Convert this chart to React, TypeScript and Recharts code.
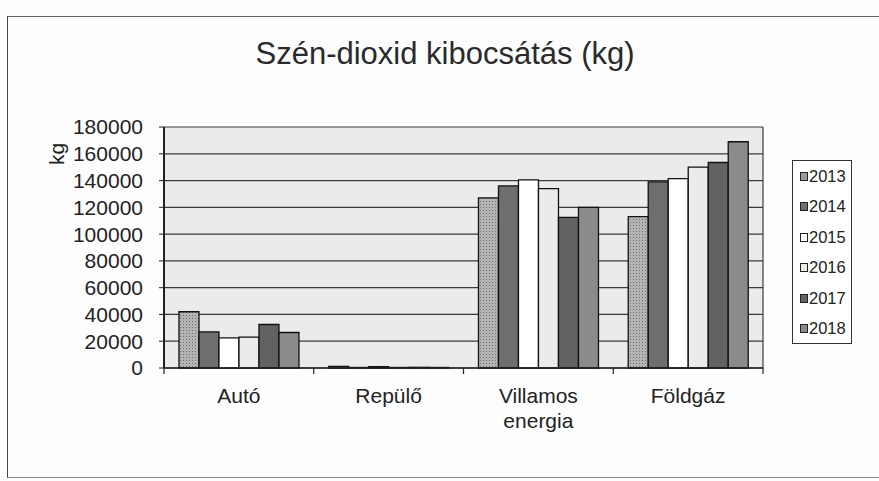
import { BarChart, Bar, XAxis, YAxis, CartesianGrid, Legend } from "recharts";

const categories = ["Autó", "Repülő", "Villamos energia", "Földgáz"];
const years = ["2013", "2014", "2015", "2016", "2017", "2018"];

// kg per év, kategóriánként (Autó, Repülő, Villamos energia, Földgáz)
const y2013 = [42000, 1200, 127000, 113000];
const y2014 = [27000, 400, 136000, 139000];
const y2015 = [22500, 1000, 140500, 141500];
const y2016 = [23000, 400, 134000, 150000];
const y2017 = [32500, 500, 112500, 153500];
const y2018 = [26500, 400, 120000, 169000];

const yTicks = [0, 20000, 40000, 60000, 80000, 100000, 120000, 140000, 160000, 180000];

const seriesValues = [y2013, y2014, y2015, y2016, y2017, y2018];
const fills = ["url(#dots2013)", "#6e6e6e", "#ffffff", "#ebebeb", "#626262", "#8b8b8b"];
const swatch = ["#9a9a9a", "#6e6e6e", "#ffffff", "#ebebeb", "#626262", "#8b8b8b"];

const data = categories.map((name, i) => {
  const row: Record<string, string | number> = { name };
  years.forEach((y, k) => {
    row["y" + y] = seriesValues[k][i];
  });
  return row;
});

const FONT = '"Liberation Sans", Arial, sans-serif';

function CategoryTick(props: any) {
  const { x, y, payload, index, visibleTicksCount } = props;
  const half = payload?.offset ?? 75;
  const words = String(payload.value).length > 10 ? String(payload.value).split(" ") : [String(payload.value)];
  const last = index === (visibleTicksCount ?? categories.length) - 1;
  return (
    <g>
      <line x1={x - half} x2={x - half} y1={y} y2={y + 6} stroke="#222" strokeWidth={1.2} />
      {last ? <line x1={x + half} x2={x + half} y1={y} y2={y + 6} stroke="#222" strokeWidth={1.2} /> : null}
      {words.map((w, i) => (
        <text key={i} x={x} y={y + 35 + i * 25} textAnchor="middle" fontSize={21} fill="#222" fontFamily={FONT}>
          {w}
        </text>
      ))}
    </g>
  );
}

function YearLegend() {
  return (
    <div
      style={{
        width: 60,
        height: 184,
        border: "1.5px solid #333",
        background: "#fff",
        fontFamily: FONT,
        fontSize: 16.5,
        color: "#222",
        boxSizing: "border-box",
        paddingTop: 0,
      }}
    >
      {years.map((y, k) => (
        <div key={y} style={{ display: "flex", alignItems: "center", height: 30.5, paddingLeft: 7 }}>
          <span
            style={{
              display: "inline-block",
              width: 6,
              height: 7,
              background: swatch[k],
              border: "1px solid #222",
              marginRight: 1,
            }}
          />
          {y}
        </div>
      ))}
    </div>
  );
}

export default function App() {
  return (
    <div style={{ position: "absolute", left: 0, top: 0, width: 879, height: 481, background: "#fdfdfd" }}>
      <div
        style={{
          position: "absolute",
          left: 7,
          top: 16,
          width: 872,
          height: 462,
          borderTop: "1.5px solid #666",
          borderLeft: "1.5px solid #444",
          borderBottom: "1.5px solid #888",
          boxSizing: "border-box",
        }}
      />
      <div
        style={{
          position: "absolute",
          left: 0,
          top: 36,
          width: 890,
          textAlign: "center",
          fontFamily: FONT,
          fontSize: 31,
          color: "#2a2a2a",
        }}
      >
        Szén-dioxid kibocsátás (kg)
      </div>
      <div style={{ position: "absolute", left: 0, top: 0 }}>
        <BarChart
          width={879}
          height={481}
          data={data}
          margin={{ top: 127, right: 116, bottom: 53, left: 0 }}
          barCategoryGap="10%"
          barGap={0}
        >
          <defs>
            <pattern id="dots2013" width="3" height="3" patternUnits="userSpaceOnUse">
              <rect width="3" height="3" fill="#b4b4b4" />
              <rect width="1" height="1" fill="#6f6f6f" />
            </pattern>
          </defs>
          <CartesianGrid
            fill="#ebebeb"
            stroke="#3a3a3a"
            strokeWidth={1.2}
            verticalCoordinatesGenerator={({ offset }: any) => [offset.left + offset.width]}
          />
          <XAxis
            dataKey="name"
            height={60}
            tickSize={0}
            tickMargin={0}
            tickLine={false}
            axisLine={{ stroke: "#222", strokeWidth: 1.5 }}
            tick={<CategoryTick />}
            interval={0}
          />
          <YAxis
            width={164}
            domain={[0, 180000]}
            ticks={yTicks}
            interval={0}
            tickSize={5}
            tickMargin={16}
            axisLine={{ stroke: "#222", strokeWidth: 2 }}
            tickLine={{ stroke: "#222" }}
            tick={{ fontSize: 21, fill: "#222", fontFamily: FONT }}
            label={{
              content: () => (
                <text
                  x={64}
                  y={154}
                  transform="rotate(-90 64 154)"
                  textAnchor="middle"
                  fontSize={21}
                  fill="#222"
                  fontFamily={FONT}
                >
                  kg
                </text>
              ),
            }}
          />
          <Legend
            layout="vertical"
            align="center"
            verticalAlign="middle"
            wrapperStyle={{ left: 792, top: 160, width: 60, height: 184 }}
            content={() => <YearLegend />}
          />
          {years.map((y, k) => (
            <Bar
              key={y}
              dataKey={"y" + y}
              name={y}
              fill={fills[k]}
              stroke="#111"
              strokeWidth={1.3}
              isAnimationActive={false}
            />
          ))}
        </BarChart>
      </div>
    </div>
  );
}
